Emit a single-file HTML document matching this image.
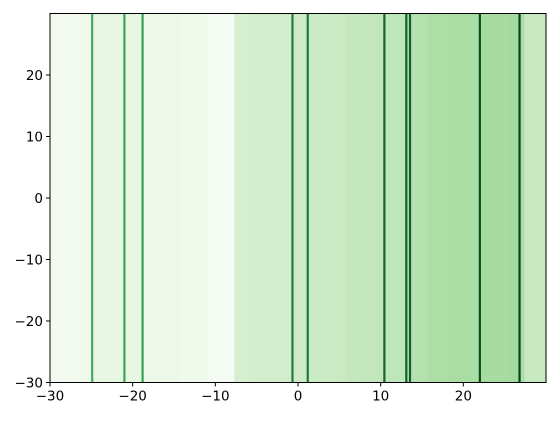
<!DOCTYPE html>
<html><head><meta charset="utf-8"><style>
html,body{margin:0;padding:0;background:#fff;}
svg text{font-family:"DejaVu Sans","Liberation Sans",sans-serif;font-size:13.5px;fill:#000;}
</style></head><body>
<svg id="chart" width="558" height="416" xmlns="http://www.w3.org/2000/svg"></svg>
<script>
const bandStarts=[-30,-26.3,-25,-18.8,-14.3,-11,-7.7,-6,-0.7,1.1,3.9,5.9,7.9,10.3,13.2,15.7,18.0,22.0,25.6,26.6,27.4];
const bandColors=["#f2faf0","#eef8eb","#e8f6e4","#edf8e9","#eff9ec","#f4fbf2","#d6efd0","#d3eecd","#cdebc6","#cbebc5","#c9eac2","#c4e8bd","#c2e7bb","#bfe6b8","#b5e1ae","#addea6","#aadda4","#a7dba0","#a3da9d","#addea7","#c7e9c0"];
const bandEnd=30;
const lineValues=[-24.9,-21.0,-18.8,-0.67,1.18,10.45,13.1,13.55,22.0,26.8];
const xTicks=[-30,-20,-10,0,10,20];
const yTicks=[-30,-20,-10,0,10,20];
const L=50,R=546,T=13.5,B=382.5,xmin=-30,xmax=30,ymin=-30,ymax=30;
const sx=v=>L+(v-xmin)/(xmax-xmin)*(R-L);
const sy=v=>B-(v-ymin)/(ymax-ymin)*(B-T);
const svg=document.getElementById('chart');
const NS='http://www.w3.org/2000/svg';
function mk(t,a){const e=document.createElementNS(NS,t);for(const k in a)e.setAttribute(k,a[k]);svg.appendChild(e);return e;}
bandStarts.forEach((s,i)=>{const e=i+1<bandStarts.length?bandStarts[i+1]:bandEnd;
 const r=mk('rect',{x:sx(s),y:T,width:sx(e)-sx(s)+0.3,height:B-T,fill:bandColors[i]});
 
 });
function lc(v){const t=Math.max(0,Math.min(1,(v+25)/52));const a=[65,171,93],b=[0,68,27];
 return 'rgb('+a.map((c,i)=>Math.round(c+(b[i]-c)*t)).join(',')+')';}
lineValues.forEach(v=>{const l=mk('line',{x1:sx(v),x2:sx(v),y1:T,y2:B,stroke:lc(v),'stroke-width':2.2});
 
 });
const fr=mk('rect',{x:L,y:T,width:R-L,height:B-T,fill:'none',stroke:'#000','stroke-width':1});


xTicks.forEach(v=>{mk('line',{x1:sx(v),x2:sx(v),y1:B,y2:B+4,stroke:'#000'});
 const t=mk('text',{x:sx(v),y:B+18,'text-anchor':'middle'});t.textContent=(v<0?'\u2212'+(-v):v);
 
 });
yTicks.forEach(v=>{mk('line',{x1:L-4,x2:L,y1:sy(v),y2:sy(v),stroke:'#000'});
 const t=mk('text',{x:L-7,y:sy(v)+5,'text-anchor':'end'});t.textContent=(v<0?'\u2212'+(-v):v);
 
 });
</script>
</body></html>
